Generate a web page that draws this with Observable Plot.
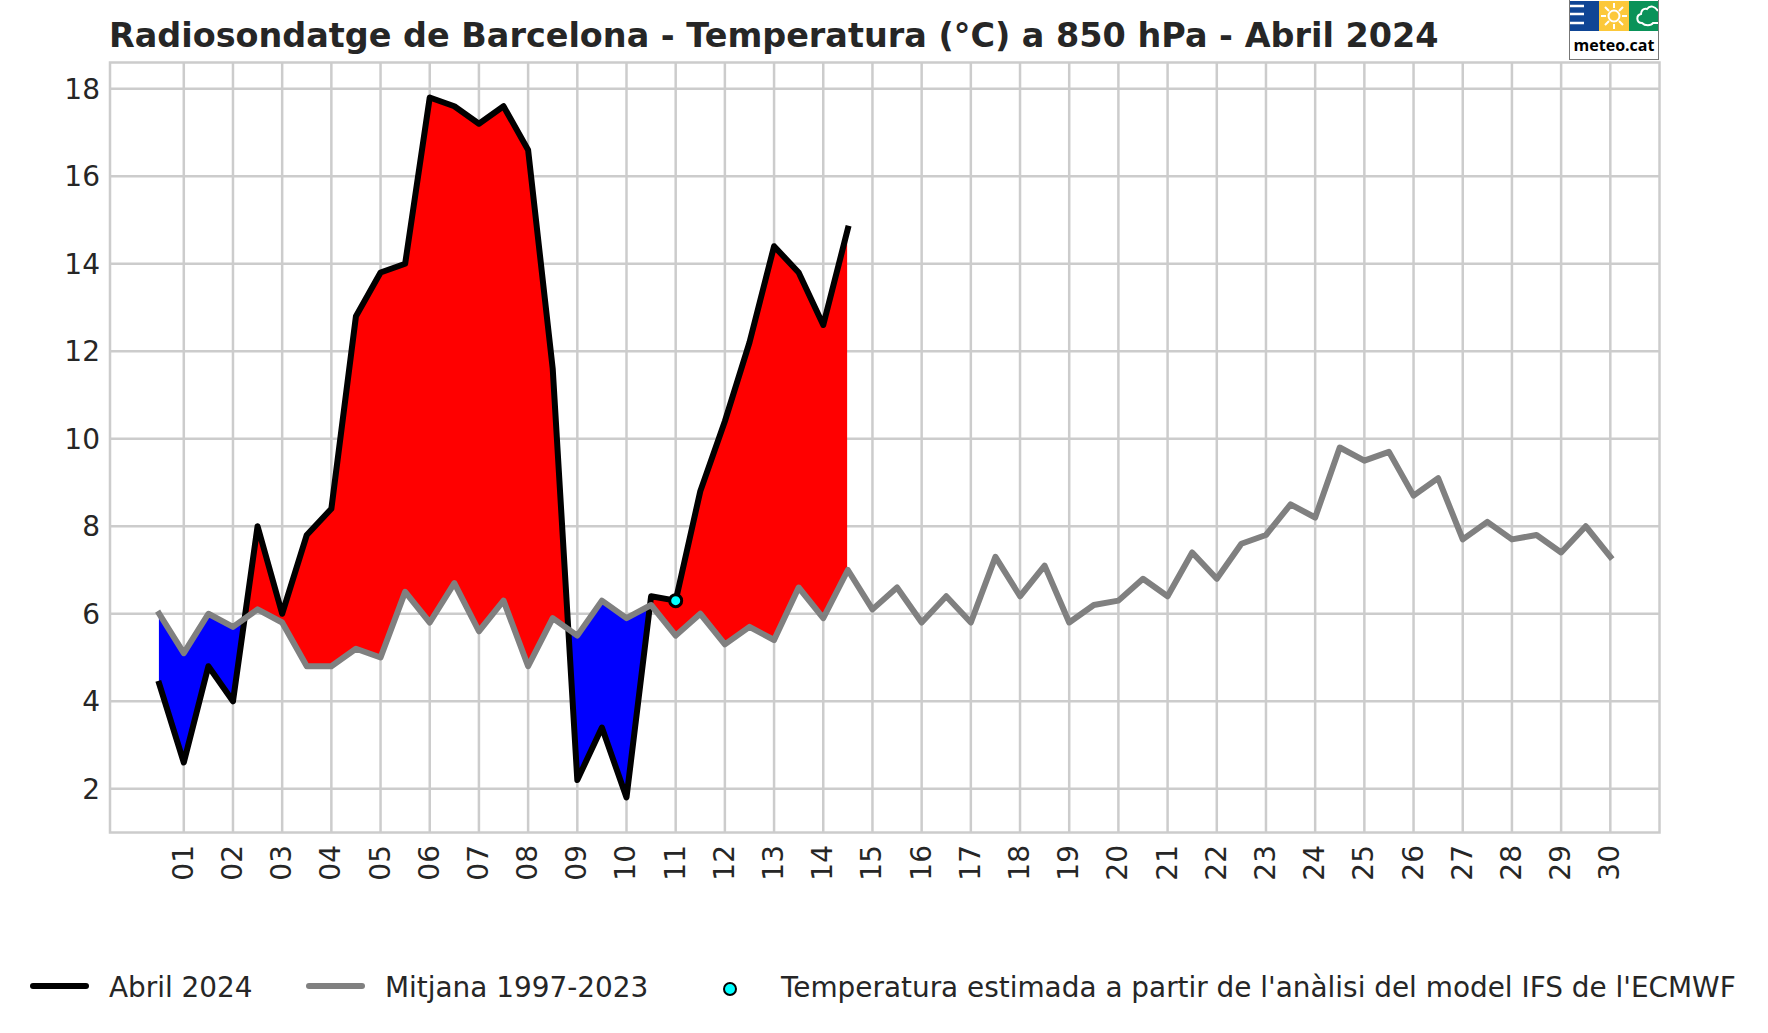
<!DOCTYPE html>
<html>
<head>
<meta charset="utf-8">
<script src="https://cdn.jsdelivr.net/npm/d3@7"></script>
<script src="https://cdn.jsdelivr.net/npm/@observablehq/plot@0.6"></script>
<style>
html,body{margin:0;padding:0;background:#fff;width:1768px;height:1033px;overflow:hidden;font-family:"DejaVu Sans",sans-serif;color:#262626}
#title{position:absolute;left:109px;top:14px;font-weight:700;font-size:33.45px;line-height:44px;white-space:nowrap}
#chart{position:absolute;left:0;top:55px}
.lg{position:absolute;top:969px;font-size:27.9px;line-height:38px;white-space:nowrap}
.sw{position:absolute;height:6px;top:982.5px;border-radius:3px}
#dot{position:absolute;left:722.5px;top:981.5px;width:10px;height:10px;border:2.8px solid #000;border-radius:50%;background:#0ff}
#logo{position:absolute;z-index:2;left:1569px;top:0;width:88px;height:59px;border:1px solid #777;border-top:0;background:#fff;box-sizing:content-box}
#logo .t{position:absolute;left:0;right:0;top:35px;text-align:center;font:700 16px/20px "Open Sans","DejaVu Sans",sans-serif;color:#000}
</style>
</head>
<body>
<div id="title">Radiosondatge de Barcelona - Temperatura (°C) a 850 hPa - Abril 2024</div>
<div id="chart"></div>
<div id="logo">
<svg width="88" height="30" style="position:absolute;left:0;top:1px">
<rect x="0" y="0" width="29" height="30" fill="#0f4595"/><rect x="29" y="0" width="30" height="30" fill="#fcc83a"/><rect x="59" y="0" width="29" height="30" fill="#0a9259"/>
<path d="M0 5h14M0 13h14M0 22h14" stroke="#fff" stroke-width="2.6"/>
<g stroke="#fff" stroke-width="2" fill="none"><circle cx="44" cy="15" r="5.5"/><path d="M44 2v5M44 23v5M31 15h5M52 15h5M35 6l4 4M49 20l4 4M35 24l4-4M49 10l4-4"/>
<path d="M88 10c-3-5-8-6-11-2c-4-1-6 2-6 5c-5 1-5 9 1 9c3 3 9 3 11 0h5" stroke-width="2"/></g>
</svg>
<div class="t">meteo.cat</div>
</div>
<div class="sw" style="left:30px;width:59px;background:#000"></div>
<div class="lg" style="left:109px">Abril 2024</div>
<div class="sw" style="left:306px;width:59px;background:#808080"></div>
<div class="lg" style="left:385px">Mitjana 1997-2023</div>
<div id="dot"></div>
<div class="lg" style="left:781px">Temperatura estimada a partir de l'anàlisi del model IFS de l'ECMWF</div>
<script>
const days = [0.5,1,1.5,2,2.5,3,3.5,4,4.5,5,5.5,6,6.5,7,7.5,8,8.5,9,9.5,10,10.5,11,11.5,12,12.5,13,13.5,14,14.5,15,15.5,16,16.5,17,17.5,18,18.5,19,19.5,20,20.5,21,21.5,22,22.5,23,23.5,24,24.5,25,25.5,26,26.5,27,27.5,28,28.5,29,29.5,30];
const abril = [4.4,2.6,4.8,4.0,8.0,6.0,7.8,8.4,12.8,13.8,14.0,17.8,17.6,17.2,17.6,16.6,11.6,2.2,3.4,1.8,6.4,6.3,8.8,10.4,12.2,14.4,13.8,12.6,14.8];
const mitjana = [6.0,5.1,6.0,5.7,6.1,5.8,4.8,4.8,5.2,5.0,6.5,5.8,6.7,5.6,6.3,4.8,5.9,5.5,6.3,5.9,6.2,5.5,6.0,5.3,5.7,5.4,6.6,5.9,7.0,6.1,6.6,5.8,6.4,5.8,7.3,6.4,7.1,5.8,6.2,6.3,6.8,6.4,7.4,6.8,7.6,7.8,8.5,8.2,9.8,9.5,9.7,8.7,9.1,7.7,8.1,7.7,7.8,7.4,8.0,7.3];
const estimada = [{d: 11, t: 6.3}];
const xTicks = [1,2,3,4,5,6,7,8,9,10,11,12,13,14,15,16,17,18,19,20,21,22,23,24,25,26,27,28,29,30];
const yTicks = [2,4,6,8,10,12,14,16,18];

const mit = days.map((d,i)=>({d, t: mitjana[i]}));
const abr = abril.map((t,i)=>({d: days[i], t, m: mitjana[i]}));
const grid = "#cccccc", ink = "#262626";

const fig = Plot.plot({
  width: 1768, height: 900,
  marginLeft: 109.5, marginRight: 109, marginTop: 7, marginBottom: 123,
  style: {fontFamily: '"DejaVu Sans",sans-serif', fontSize: "28px", color: ink, background: "#fff"},
  x: {domain: [-0.5, 31]},
  y: {domain: [1, 18.6]},
  marks: [
    Plot.gridX(xTicks, {stroke: grid, strokeOpacity: 1, strokeWidth: 2.5}),
    Plot.gridY(yTicks, {stroke: grid, strokeOpacity: 1, strokeWidth: 2.5}),
    Plot.frame({stroke: grid, strokeWidth: 2.5}),
    Plot.differenceY(abr, {x: "d", y1: "m", y2: "t", positiveFill: "#ff0000", negativeFill: "#0000ff", fillOpacity: 1, positiveFillOpacity: 1, negativeFillOpacity: 1, stroke: "none"}),
    Plot.line(abr, {x: "d", y: "t", stroke: "#000", strokeWidth: 6, strokeLinejoin: "round", strokeLinecap: "square"}),
    Plot.line(mit, {x: "d", y: "t", stroke: "#808080", strokeWidth: 6, strokeLinejoin: "round", strokeLinecap: "square"}),
    Plot.dot(estimada, {x: "d", y: "t", r: 6, fill: "#00ffff", stroke: "#000", strokeWidth: 3}),
    Plot.axisX(xTicks, {label: null, tickSize: 0, tickPadding: 12.5, tickRotate: -90, tickFormat: d3.format("02"), fill: ink}),
    Plot.axisY(yTicks, {label: null, tickSize: 0, tickPadding: 10, dy: 1, tickFormat: d => String(d), fill: ink})
  ]
});
document.getElementById("chart").append(fig);
</script>
</body>
</html>
